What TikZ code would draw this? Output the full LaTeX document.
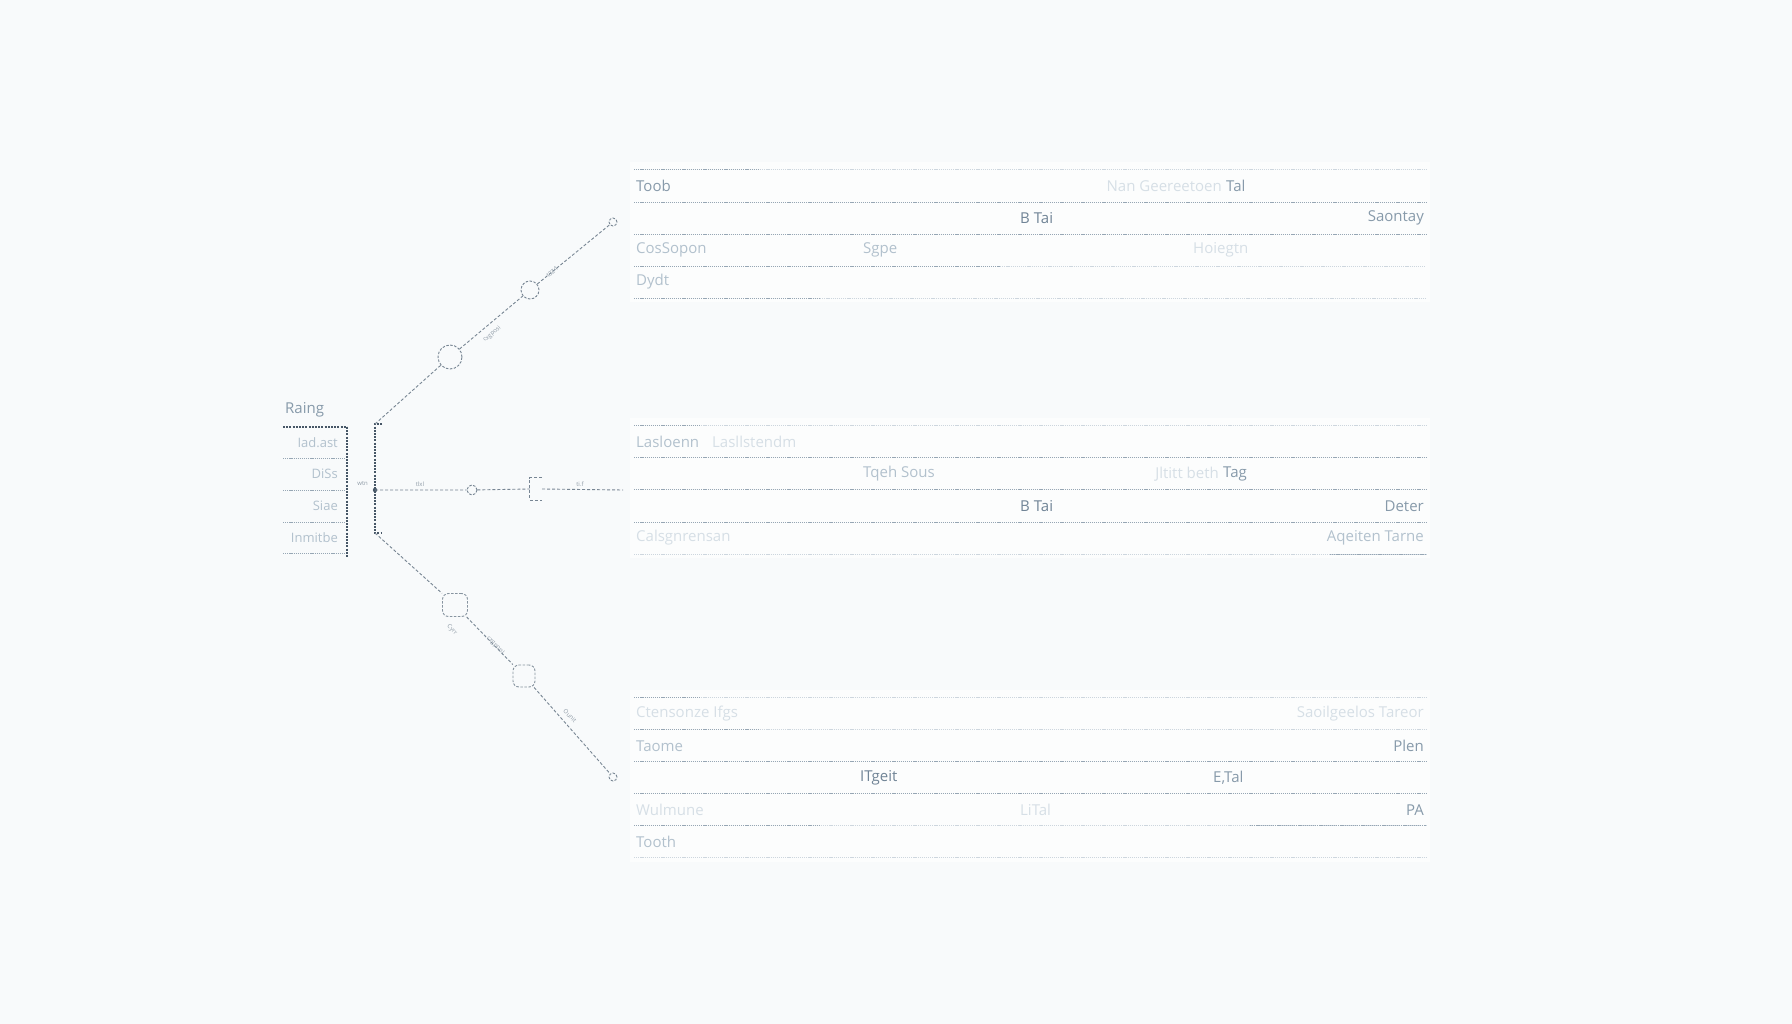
\documentclass[tikz,border=0pt]{standalone}
\usepackage{fontspec}
\setmainfont{Open Sans}
\definecolor{bg}{RGB}{248,250,251}
\definecolor{panel}{RGB}{252,253,253}
\definecolor{txt}{RGB}{135,154,170}
\definecolor{txtd}{RGB}{112,132,150}
\definecolor{txtl}{RGB}{178,193,205}
\definecolor{txtf}{RGB}{214,223,230}
\definecolor{rulec}{RGB}{150,166,180}
\definecolor{rulef}{RGB}{205,214,222}
\definecolor{conn}{RGB}{95,112,128}
\definecolor{dark}{RGB}{70,86,102}
\begin{document}
\begin{tikzpicture}[x=1pt,y=-1pt,
  lbl/.style={font=\fontsize{15}{17}\selectfont, text=txt, inner sep=0pt},
  lbld/.style={lbl, text=txtd},
  lblf/.style={lbl, text=txtf},
  lbll/.style={font=\fontsize{13}{15}\selectfont, text=txtl, inner sep=0pt},
  tiny/.style={font=\fontsize{6}{7}\selectfont, text=conn!70, inner sep=0pt},
  rowline/.style={draw=rulec, line width=0.8pt, dash pattern=on 1.2pt off 0.9pt},
  rowlinef/.style={draw=rulef, line width=0.8pt, dash pattern=on 1.2pt off 0.9pt},
  darkdash/.style={draw=dark, line width=1.6pt, dash pattern=on 2pt off 1.2pt},
  connline/.style={draw=conn!85, line width=0.9pt, dash pattern=on 3pt off 2pt},
  circ/.style={circle, draw=conn!85, line width=0.9pt, dash pattern=on 2.5pt off 1.5pt, inner sep=0pt},
  rsq/.style={rectangle, rounded corners=6pt, draw=conn!75, line width=0.9pt, dash pattern=on 2.5pt off 1.5pt, inner sep=0pt}
]
\useasboundingbox[fill=bg] (0,0) rectangle (1792,1024);

% panels
\fill[panel] (630,162) rectangle (1430,302);
\fill[panel] (630,418) rectangle (1430,558);
\fill[panel] (630,690) rectangle (1430,862);

% ---------------- left table ----------------
\node[lbl, anchor=west] (lt) at (285,410) {Raing};
\draw[darkdash] (283,427) -- (347,427);
\draw[darkdash] (347,427) -- (347,557);
\draw[rowline] (283,458) -- (345,458);
\draw[rowline] (283,490) -- (345,490);
\draw[rowline] (283,522) -- (345,522);
\draw[rowline] (283,553) -- (345,553);
\node[lbll, anchor=east] (l1) at (338,443) {Iad.ast};
\node[lbll, anchor=east] (l2) at (338,474) {DiSs};
\node[lbll, anchor=east] (l3) at (338,506) {Siae};
\node[lbll, anchor=east] (l4) at (338,538) {Inmitbe};

% bracket
\coordinate (bt) at (375,424);
\coordinate (bm) at (375,490);
\coordinate (bb) at (375,533);
\draw[darkdash, line width=1.4pt] (382,424) -- (bt) -- (bb) -- (382,533);
\node[tiny, anchor=east] (wt) at (368,484) {wtn};
\fill[dark] (bm) circle (2.2pt);

% ---------------- connectors ----------------
\node[circ, minimum size=24pt] (ca1) at (450,357) {};
\node[circ, minimum size=18pt] (ca2) at (530,290) {};
\node[circ, minimum size=8pt] (ca3) at (613,222) {};
\draw[connline] (bt) -- (ca1) -- (ca2) -- (ca3);
\node[tiny, rotate=40] (la1) at (492,334) {cxgposi};
\node[tiny, rotate=40] (la2) at (552,272) {t3Z4};

\node[circ, minimum size=10pt] (cm1) at (472,490) {};
\node[minimum width=12pt, minimum height=22pt, inner sep=0pt] (cm2) at (536,489) {};
\coordinate (cm3) at (623,490);
\draw[connline] (cm2.north east) -- (cm2.north west) -- (cm2.south west) -- (cm2.south east);
\draw[connline] (bm) -- (cm1) -- (cm2.west);
\draw[connline] (cm2.east) -- (cm3);
\node[tiny] (lm1) at (420,484) {tlxl};
\node[tiny] (lm2) at (580,484) {ti.f};

\node[rsq, minimum width=25pt, minimum height=23pt] (cb1) at (455,605) {};
\node[rsq, minimum width=22pt, minimum height=22pt] (cb2) at (524,676) {};
\node[circ, minimum size=8pt] (cb3) at (613,777) {};
\draw[connline] (bb) -- (cb1) -- (cb2) -- (cb3);
\node[tiny, rotate=-45] (lb1) at (452,630) {Cyrr};
\node[tiny, rotate=-45] (lb2) at (496,646) {cxgponL};
\node[tiny, rotate=-45] (lb3) at (570,716) {Ounit};

% ---------------- table 1 ----------------
\draw[rowlinef] (634,169) -- (1426,169);
\draw[rowline] (634,169) -- (760,169);
\draw[rowline] (634,202) -- (1426,202);
\draw[rowline] (634,234) -- (1426,234);
\draw[rowline] (634,266) -- (1000,266);
\draw[rowlinef] (1000,266) -- (1426,266);
\draw[rowline] (634,298) -- (820,298);
\draw[rowlinef] (820,298) -- (1426,298);
\node[lbl, anchor=west] (a1) at (636,186) {Toob};
\node[lblf, anchor=east] (a2) at (1222,186) {Nan Geereetoen};
\node[lbl, anchor=west] (a3) at (1226,186) {Tal};
\node[lbld, anchor=west] (a4) at (1020,218) {B Tai};
\node[lbl, anchor=east] (a5) at (1424,218) {Saontay};
\node[lbl, text=txtl, anchor=west] (a6) at (636,250) {CosSopon};
\node[lbl, text=txtl, anchor=west] (a7) at (863,250) {Sgpe};
\node[lblf, anchor=west] (a8) at (1193,250) {Hoiegtn};
\node[lbl, text=txtl, anchor=west] (a9) at (636,282) {Dydt};

% ---------------- table 2 ----------------
\draw[rowlinef] (634,425) -- (1426,425);
\draw[rowline] (634,425) -- (700,425);
\draw[rowline] (634,457) -- (1426,457);
\draw[rowline] (634,489) -- (1426,489);
\draw[rowline] (634,522) -- (1426,522);
\draw[rowlinef] (634,554) -- (1426,554);
\draw[rowline] (1330,554) -- (1426,554);
\node[lbl, text=txtl, anchor=west] (b1) at (636,442) {Lasloenn};
\node[lblf, anchor=west] (b1f) at (712,442) {Lasllstendm};
\node[lbl, text=txtl, anchor=west] (b2) at (863,474) {Tqeh Sous};
\node[lblf, anchor=east] (b3f) at (1219,474) {Jltitt beth};
\node[lbl, anchor=west] (b3) at (1223,474) {Tag};
\node[lbld, anchor=west] (b4) at (1020,506) {B Tai};
\node[lbl, anchor=east] (b5) at (1424,506) {Deter};
\node[lblf, anchor=west] (b6f) at (636,538) {Calsgnrensan};
\node[lbl, text=txtl, anchor=east] (b6) at (1424,538) {Aqeiten Tarne};

% ---------------- table 3 ----------------
\draw[rowlinef] (634,697) -- (1426,697);
\draw[rowline] (634,697) -- (700,697);
\draw[rowlinef] (634,729) -- (1426,729);
\draw[rowline] (634,729) -- (760,729);
\draw[rowline] (634,761) -- (1426,761);
\draw[rowline] (634,793) -- (1426,793);
\draw[rowlinef] (634,825) -- (1426,825);
\draw[rowline] (634,825) -- (820,825);
\draw[rowline] (1250,825) -- (1426,825);
\draw[rowlinef] (634,857) -- (1426,857);
\node[lblf, anchor=west] (c1) at (636,714) {Ctensonze Ifgs};
\node[lblf, anchor=east] (c1b) at (1424,714) {Saoilgeelos Tareor};
\node[lbl, text=txtl, anchor=west] (c2) at (636,746) {Taome};
\node[lbl, anchor=east] (c3) at (1424,746) {Plen};
\node[lbld, anchor=west] (c4) at (860,778) {ITgeit};
\node[lbl, anchor=west] (c5) at (1213,778) {E,Tal};
\node[lbl, text=txtf, anchor=west] (c6) at (636,810) {Wulmune};
\node[lblf, anchor=west] (c7) at (1020,810) {LiTal};
\node[lbl, anchor=east] (c8) at (1424,810) {PA};
\node[lbl, text=txtl, anchor=west] (c9) at (636,842) {Tooth};
\end{tikzpicture}
\end{document}
